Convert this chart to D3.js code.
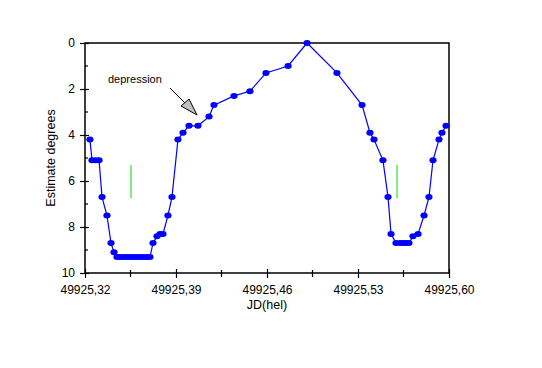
<!DOCTYPE html>
<html><head><meta charset="utf-8">
<script src="https://cdn.jsdelivr.net/npm/d3@7"></script>
<style>body{margin:0;background:#fff}svg{display:block}text{font-family:"Liberation Sans",Arial,sans-serif;font-size:11px;fill:#000}</style>
</head><body>
<svg id="c" width="542" height="368"></svg>
<script>
const jd = [49925.3238,49925.3254,49925.3281,49925.3308,49925.3331,49925.3369,49925.3400,49925.3423,
49925.3446,49925.3469,49925.3492,49925.3515,49925.3538,49925.3562,49925.3585,49925.3608,49925.3631,49925.3654,49925.3677,49925.3700,
49925.3723,49925.3754,49925.3777,49925.3800,49925.3838,49925.3869,49925.3915,49925.3954,49925.4000,49925.4069,49925.4154,49925.4192,
49925.4346,49925.4469,49925.4592,49925.4762,49925.4908,49925.5138,49925.5331,49925.5392,49925.5423,49925.5492,49925.5531,49925.5554,
49925.5592,49925.5623,49925.5646,49925.5669,49925.5692,49925.5723,49925.5762,49925.5808,49925.5846,49925.5877,49925.5923,49925.5946,49925.5977];
const deg = [4.2,5.1,5.1,5.1,6.7,7.5,8.7,9.1,
9.3,9.3,9.3,9.3,9.3,9.3,9.3,9.3,9.3,9.3,9.3,9.3,
8.7,8.4,8.3,8.3,7.5,6.7,4.2,3.9,3.6,3.6,3.2,2.7,
2.3,2.1,1.3,1.0,0,1.3,2.7,3.9,4.2,5.1,6.7,8.3,
8.7,8.7,8.7,8.7,8.7,8.4,8.3,7.5,6.7,5.1,4.2,3.9,3.6];
const xTicks = [49925.32,49925.39,49925.46,49925.53,49925.60];
const xMinor = [49925.355,49925.425,49925.495,49925.565];
const yTicks = [0,2,4,6,8,10];
const yMinor = [1,3,5,7,9];
const markersJD = [49925.3554,49925.5600];
const markerDeg = [5.3,6.75];
const annotText = "depression";

const svg = d3.select("#c");
const L=85,R=449,T=43,B=273;
const x = d3.scaleLinear().domain([49925.32,49925.60]).range([L,R]);
const y = d3.scaleLinear().domain([0,10]).range([T,B]);

// frame
svg.append("rect").attr("x",L).attr("y",T).attr("width",R-L).attr("height",B-T)
  .attr("fill","none").attr("stroke","#000").attr("stroke-width",1.5);

const fmt = d => d.toFixed(2).replace(".",",");
const gx = svg.append("g").attr("transform",`translate(0,${B})`)
  .call(d3.axisBottom(x).tickValues(xTicks).tickFormat(fmt).tickSizeInner(5).tickSizeOuter(0).tickPadding(7));
gx.select(".domain").remove();
gx.selectAll(".tick line").attr("y1",-4).attr("y2",5).attr("stroke-width",1.2);
gx.selectAll("text").style("font-size","12px").style("font-family","Liberation Sans, Arial, sans-serif");
svg.append("g").selectAll("line").data(xMinor).join("line")
  .attr("x1",d=>x(d)).attr("x2",d=>x(d)).attr("y1",B-3).attr("y2",B+4).attr("stroke","#000").attr("stroke-width",1.2);

const gy = svg.append("g").attr("transform",`translate(${L},0)`)
  .call(d3.axisLeft(y).tickValues(yTicks).tickFormat(d3.format("d")).tickSizeInner(5).tickSizeOuter(0).tickPadding(5));
gy.select(".domain").remove();
gy.selectAll(".tick line").attr("x1",-5).attr("x2",4).attr("stroke-width",1.2);
gy.selectAll("text").style("font-size","12px").style("font-family","Liberation Sans, Arial, sans-serif");
svg.append("g").selectAll("line").data(yMinor).join("line")
  .attr("x1",L).attr("x2",L+3).attr("y1",d=>y(d)).attr("y2",d=>y(d)).attr("stroke","#000").attr("stroke-width",1.2);

// axis titles
svg.append("text").attr("x",(L+R)/2).attr("y",309).attr("text-anchor","middle").style("font-size","12.5px").text("JD(hel)");
svg.append("text").attr("transform",`translate(55,${(T+B)/2}) rotate(-90)`).attr("text-anchor","middle").style("font-size","12.5px").text("Estimate degrees");

// green markers
svg.append("g").selectAll("line").data(markersJD).join("line")
  .attr("x1",d=>x(d)).attr("x2",d=>x(d)).attr("y1",y(markerDeg[0])).attr("y2",y(markerDeg[1]))
  .attr("stroke","#00dd00").attr("stroke-width",1);

// data line
const pts = jd.map((d,i)=>[d,deg[i]]);
svg.append("path").datum(pts).attr("fill","none").attr("stroke","#0000ff").attr("stroke-width",1.2)
  .attr("d",d3.line().x(d=>x(d[0])).y(d=>y(d[1])));
svg.append("g").selectAll("ellipse").data(pts).join("ellipse")
  .attr("cx",d=>x(d[0])).attr("cy",d=>y(d[1])).attr("rx",3.6).attr("ry",3).attr("fill","#0000ff");

// annotation
svg.append("text").attr("x",108).attr("y",83).text(annotText);
svg.append("line").attr("x1",170).attr("y1",88).attr("x2",186).attr("y2",104).attr("stroke","#000").attr("stroke-width",1);
svg.append("path").attr("d","M181,106 L189,99 L197,115 Z").attr("fill","#c0c0c0").attr("stroke","#000").attr("stroke-width",1);
</script>
</body></html>
